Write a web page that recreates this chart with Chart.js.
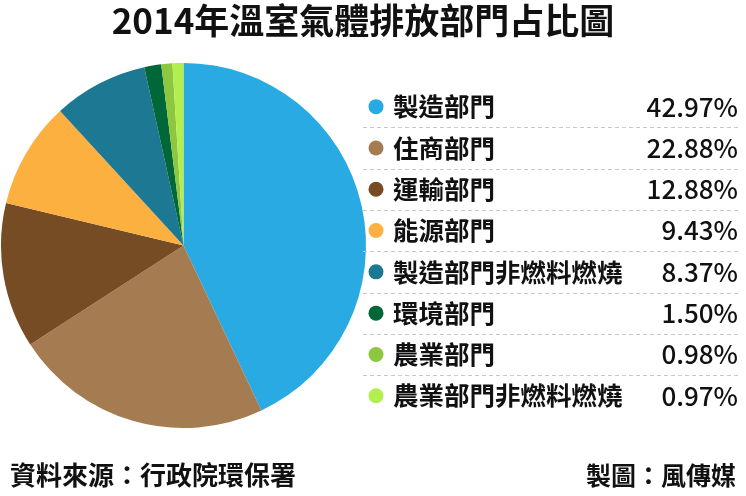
<!DOCTYPE html>
<html>
<head>
<meta charset="utf-8">
<script src="https://cdn.jsdelivr.net/npm/chart.js@4"></script>
<style>
  html, body { margin: 0; padding: 0; background: #fff; }
  #wrap { width: 746px; height: 496px; position: relative; }
</style>
</head>
<body>
<div id="wrap"><canvas id="canvas" width="746" height="496"></canvas></div>
<script>
// 資料
var sectors = ['製造部門', '住商部門', '運輸部門', '能源部門', '製造部門非燃料燃燒', '環境部門', '農業部門', '農業部門非燃料燃燒'];
var shares = [42.97, 22.88, 12.88, 9.43, 8.37, 1.50, 0.98, 0.97];
var colors = ['#29aae2', '#a57c52', '#754c24', '#fbb040', '#1d7894', '#006838', '#8dc63f', '#b3ee4f'];
var titleText = '2014年溫室氣體排放部門占比圖';
var sourceText = '資料來源：行政院環保署';
var makerText = '製圖：風傳媒';

var FONT = '"Noto Sans CJK TC", "Noto Sans", sans-serif';

// 畫標題、圖例、註腳
var textPlugin = {
  id: 'texts',
  afterDraw: function(chart) {
    var ctx = chart.ctx;
    ctx.save();
    ctx.fillStyle = '#111';
    ctx.textBaseline = 'middle';

    ctx.font = 'bold 35px ' + FONT;
    ctx.textAlign = 'center';
    ctx.fillText(titleText, 363, 21);

    var rowTop = 86, rowH = 41.3;
    for (var i = 0; i < sectors.length; i++) {
      var cy = rowTop + rowH * i + rowH / 2;
      ctx.fillStyle = colors[i];
      ctx.beginPath();
      ctx.arc(376, cy, 7.5, 0, Math.PI * 2);
      ctx.fill();

      ctx.fillStyle = '#111';
      ctx.textAlign = 'left';
      ctx.font = 'bold 25.5px ' + FONT;
      ctx.fillText(sectors[i], 393, cy);

      ctx.textAlign = 'right';
      ctx.font = '500 26px ' + FONT;
      ctx.fillText(shares[i].toFixed(2) + '%', 738, cy);

      if (i < sectors.length - 1) {
        var ly = Math.round(rowTop + rowH * (i + 1)) + 0.5;
        ctx.strokeStyle = '#c8c8c8';
        ctx.lineWidth = 1;
        ctx.setLineDash([4, 3]);
        ctx.beginPath();
        ctx.moveTo(363, ly);
        ctx.lineTo(738, ly);
        ctx.stroke();
        ctx.setLineDash([]);
      }
    }

    ctx.fillStyle = '#111';
    ctx.font = 'bold 26px ' + FONT;
    ctx.textAlign = 'left';
    ctx.fillText(sourceText, 10, 475);
    ctx.font = 'bold 25px ' + FONT;
    ctx.textAlign = 'right';
    ctx.fillText(makerText, 736, 475);
    ctx.restore();
  }
};

var config = {
  type: 'pie',
  data: {
    labels: sectors,
    datasets: [{
      data: shares,
      backgroundColor: colors,
      borderWidth: 0
    }]
  },
  options: {
    responsive: false,
    animation: false,
    layout: { padding: { left: 1, right: 380, top: 63, bottom: 68 } },
    plugins: {
      legend: { display: false },
      tooltip: { enabled: false }
    }
  },
  plugins: [textPlugin]
};

new Chart(document.getElementById('canvas'), config);
</script>
</body>
</html>
